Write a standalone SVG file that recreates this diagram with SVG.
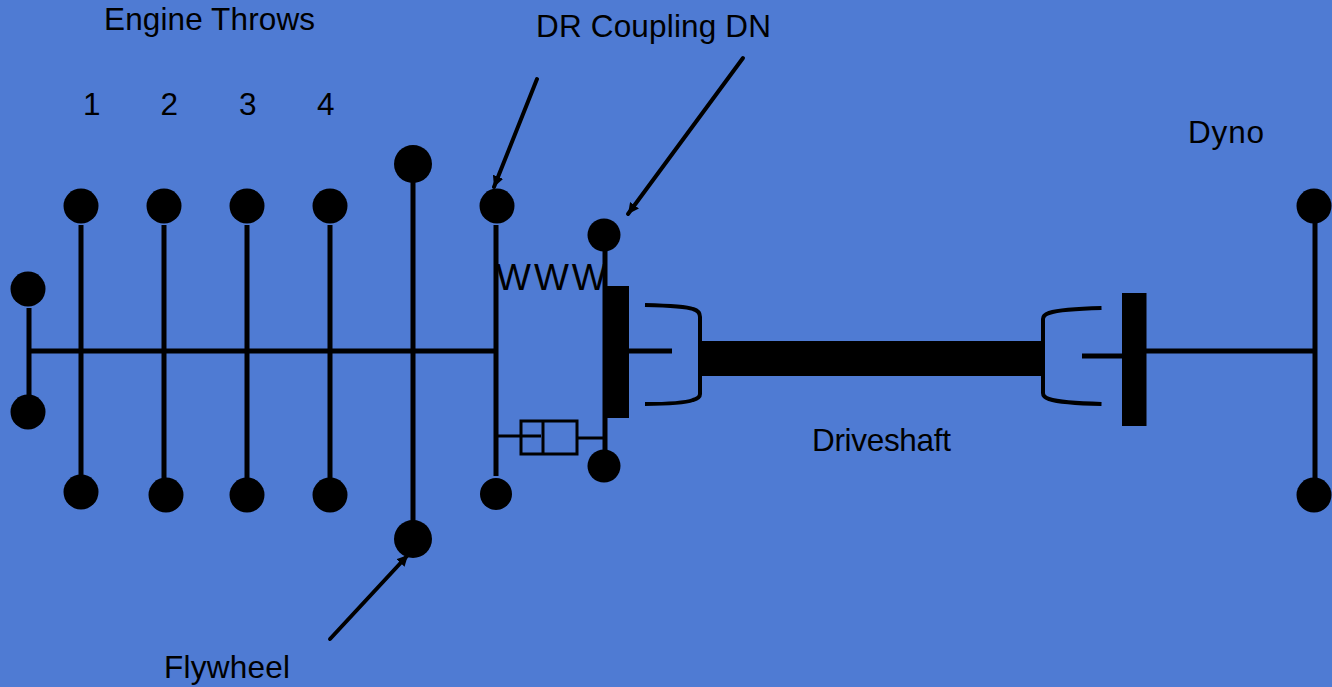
<svg xmlns="http://www.w3.org/2000/svg" width="1332" height="687" viewBox="0 0 1332 687">
<style>
.t{font-family:"Liberation Sans",Arial,sans-serif;font-size:31.5px;fill:#000}
.w{font-family:"Liberation Sans",Arial,sans-serif;font-size:37px;fill:#000;letter-spacing:3px}
.l{stroke:#000;stroke-width:5;fill:none}
.c{stroke:#000;stroke-width:4;fill:none}
.th{stroke:#000;stroke-width:3;fill:none}
.d{fill:#000}
.a{stroke:#000;stroke-width:4;fill:none;stroke-linecap:round;marker-end:url(#ah)}
</style>
<defs><marker id="ah" markerUnits="userSpaceOnUse" markerWidth="13" markerHeight="13" refX="11" refY="5.500" orient="auto"><path d="M0,0L11,5.500L0,11z" fill="#000"/></marker></defs>
<rect width="1332" height="687" fill="#4f7bd3"/>
<g id="connectors">
<path class="l" d="M29 351H496"/>
<path class="l" d="M29 308V399"/>
<path class="l" d="M81 225V476M164 225V478M247 225V478M330 225V478M413 180V522M496 225V476M605 250V450"/>
<path class="l" d="M1146 351H1314M1315 222V478"/>
<path class="l" d="M628 351H672M1082 356H1122"/>
<path class="th" d="M497 436H541M578 438H605"/>
<path class="a" d="M537 79L494 187"/>
<path class="a" d="M743 58L628 214"/>
<path class="a" d="M330 639L408 555"/>
</g>
<g id="coupling-left"><rect class="d" x="603" y="286" width="26" height="132"/></g>
<g id="coupling-right"><rect class="d" x="1122" y="293" width="24.500" height="133"/></g>
<g id="driveshaft"><rect class="d" x="698" y="341" width="345" height="35"/>
<path class="c" d="M645 305C665 305.500 685 306 693 309Q700 311 700 317V394Q700 398 693 400C685 403 665 404 645 404"/>
<path class="c" d="M1101.500 308C1080 308.500 1058 310 1049 313Q1043 315 1043 319V393Q1043 397 1049 399C1058 402 1080 403.500 1101.500 404"/></g>
<g id="damper"><rect class="th" x="521" y="421" width="56" height="33"/><path class="th" d="M543 421V454"/></g>
<g id="spring"><text class="w" x="496" y="289.500">WWW</text></g>
<g id="n1"><circle class="d" cx="28" cy="289" r="17.500"/></g>
<g id="n2"><circle class="d" cx="28" cy="412" r="17.500"/></g>
<g id="n3"><circle class="d" cx="81" cy="206" r="17.500"/></g>
<g id="n4"><circle class="d" cx="164" cy="206" r="17.500"/></g>
<g id="n5"><circle class="d" cx="247" cy="206" r="17.500"/></g>
<g id="n6"><circle class="d" cx="330" cy="206" r="17.500"/></g>
<g id="n7"><circle class="d" cx="81" cy="492" r="17.500"/></g>
<g id="n8"><circle class="d" cx="166" cy="495" r="17.500"/></g>
<g id="n9"><circle class="d" cx="247" cy="495" r="17.500"/></g>
<g id="n10"><circle class="d" cx="330" cy="495" r="17.500"/></g>
<g id="n11"><circle class="d" cx="413" cy="164" r="19"/></g>
<g id="n12"><circle class="d" cx="413" cy="539" r="19"/></g>
<g id="n13"><circle class="d" cx="497" cy="206" r="17.500"/></g>
<g id="n14"><circle class="d" cx="496" cy="494" r="16"/></g>
<g id="n15"><circle class="d" cx="604" cy="235" r="16.500"/></g>
<g id="n16"><circle class="d" cx="604" cy="466" r="16.500"/></g>
<g id="n17"><circle class="d" cx="1314" cy="206" r="17.500"/></g>
<g id="n18"><circle class="d" cx="1314" cy="495" r="17.500"/></g>
<g id="labels">
<text class="t" x="104" y="30" textLength="211">Engine Throws</text>
<text class="t" x="83" y="115">1</text>
<text class="t" x="160.500" y="115">2</text>
<text class="t" x="239" y="115">3</text>
<text class="t" x="317" y="115">4</text>
<text class="t" x="536" y="37" textLength="235">DR Coupling DN</text>
<text class="t" x="1188" y="143" textLength="76">Dyno</text>
<text class="t" x="812" y="451" textLength="139">Driveshaft</text>
<text class="t" x="164" y="678" textLength="126">Flywheel</text>
</g>
</svg>
